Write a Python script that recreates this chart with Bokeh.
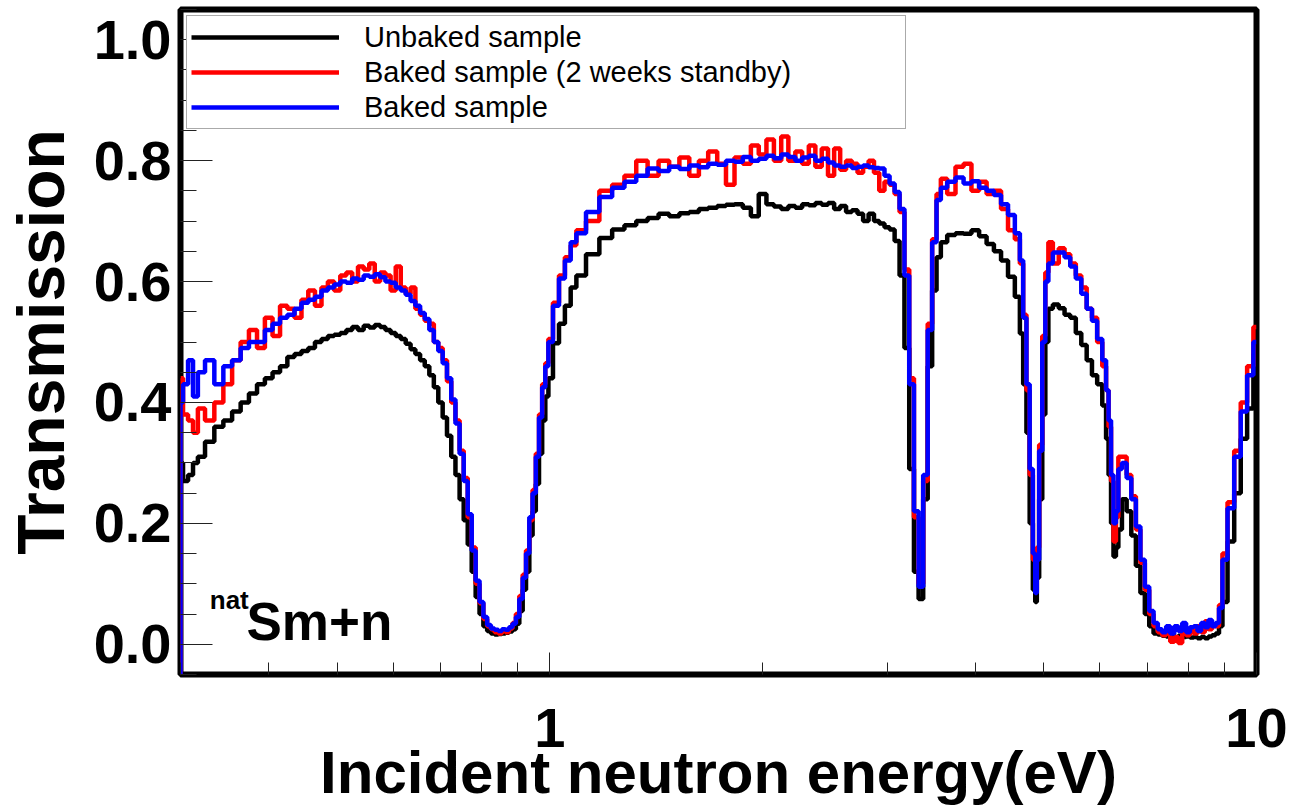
from bokeh.plotting import figure
from bokeh.models import (FixedTicker, SingleIntervalTicker, PrintfTickFormatter,
                          Label, Range1d)
from bokeh.embed import file_html
from bokeh.resources import INLINE

# ---------------- data ----------------
energy_eV = [
    0.300, 0.305, 0.31, 0.315, 0.32, 0.33, 0.34, 0.35, 0.36, 0.37, 0.38, 0.39, 0.40,
    0.41, 0.42, 0.43, 0.44, 0.45, 0.46, 0.47, 0.48, 0.49, 0.50, 0.51, 0.52, 0.53,
    0.54, 0.55, 0.56, 0.57, 0.58, 0.59, 0.60, 0.61, 0.62, 0.63, 0.64, 0.65, 0.66,
    0.67, 0.68, 0.69, 0.70,
    0.71, 0.72, 0.73, 0.74, 0.75, 0.76, 0.77, 0.78, 0.79, 0.80, 0.81, 0.82, 0.83,
    0.84, 0.85, 0.86, 0.87, 0.88, 0.89, 0.90, 0.91, 0.92, 0.93, 0.94, 0.95, 0.96,
    0.97, 0.98, 0.99, 1.00, 1.02, 1.04, 1.06, 1.08, 1.10,
    1.15, 1.2, 1.25, 1.3, 1.35, 1.4, 1.45, 1.5, 1.55, 1.6, 1.65, 1.7, 1.75, 1.8,
    1.85, 1.9, 1.95, 2.0, 2.05, 2.1, 2.15, 2.2, 2.25, 2.3, 2.35, 2.4, 2.45, 2.5,
    2.55, 2.6, 2.65, 2.7, 2.75, 2.8, 2.85, 2.9, 2.95, 3.0,
    3.05, 3.1, 3.15, 3.2, 3.25, 3.3, 3.35, 3.4, 3.45, 3.5, 3.55, 3.6, 3.7, 3.8,
    3.9, 4.0, 4.1, 4.2, 4.3, 4.4, 4.5, 4.6, 4.65, 4.7, 4.75, 4.8, 4.85, 4.875,
    4.9, 4.95, 5.0, 5.05, 5.1, 5.2, 5.3,
    5.4, 5.5, 5.6, 5.7, 5.8, 5.9, 6.0, 6.1, 6.15, 6.2, 6.25, 6.3, 6.35, 6.4, 6.5,
    6.6, 6.7, 6.8, 6.9, 7.0, 7.1, 7.2, 7.3, 7.4, 7.5, 7.6, 7.7, 7.8, 7.9, 8.0,
    8.1, 8.2, 8.3, 8.4, 8.5, 8.6, 8.7, 8.8, 8.9, 9.0, 9.2, 9.4, 9.6, 9.8, 10.0,
]

unbaked = [
    0.30, 0.27, 0.28, 0.30, 0.31, 0.335, 0.36, 0.37, 0.385, 0.40, 0.415, 0.43, 0.44,
    0.45, 0.46, 0.475, 0.48, 0.485, 0.49, 0.50, 0.505, 0.51, 0.512, 0.515, 0.52, 0.525,
    0.52, 0.527, 0.524, 0.528, 0.525, 0.52, 0.515, 0.51, 0.505, 0.497, 0.488, 0.48, 0.47,
    0.46, 0.445, 0.425, 0.40,
    0.375, 0.345, 0.31, 0.28, 0.24, 0.205, 0.165, 0.12, 0.078, 0.05, 0.03, 0.022, 0.018,
    0.016, 0.017, 0.018, 0.019, 0.021, 0.025, 0.034, 0.055, 0.09, 0.12, 0.18, 0.22, 0.265,
    0.315, 0.37, 0.41, 0.44, 0.498, 0.53, 0.56, 0.59, 0.61,
    0.645, 0.672, 0.686, 0.693, 0.70, 0.705, 0.712, 0.708, 0.713, 0.715, 0.72, 0.722, 0.725, 0.727,
    0.728, 0.722, 0.708, 0.745, 0.728, 0.724, 0.72, 0.725, 0.722, 0.728, 0.726, 0.73, 0.727, 0.73,
    0.72, 0.725, 0.715, 0.718, 0.712, 0.70, 0.712, 0.70, 0.696, 0.69,
    0.686, 0.667, 0.61, 0.49, 0.29, 0.12, 0.075, 0.24, 0.46, 0.585, 0.64, 0.665, 0.677, 0.68,
    0.679, 0.685, 0.675, 0.662, 0.65, 0.635, 0.608, 0.575, 0.514, 0.43, 0.35, 0.20, 0.09, 0.07,
    0.11, 0.24, 0.38, 0.50, 0.555, 0.562, 0.556,
    0.545, 0.54, 0.515, 0.495, 0.47, 0.445, 0.43, 0.395, 0.34, 0.28, 0.20, 0.145, 0.16, 0.19, 0.24,
    0.22, 0.18, 0.13, 0.085, 0.05, 0.03, 0.018, 0.016, 0.014, 0.013, 0.015, 0.012, 0.014, 0.012, 0.013,
    0.011, 0.012, 0.010, 0.012, 0.010, 0.013, 0.015, 0.018, 0.03, 0.07, 0.17, 0.25, 0.34, 0.39, 0.48,
]

baked_standby = [
    0.44, 0.38, 0.37, 0.35, 0.39, 0.37, 0.40, 0.43, 0.47, 0.50, 0.52, 0.49, 0.54,
    0.51, 0.56, 0.555, 0.54, 0.57, 0.585, 0.56, 0.59, 0.60, 0.585, 0.61, 0.615, 0.60,
    0.625, 0.62, 0.63, 0.60, 0.615, 0.61, 0.585, 0.625, 0.59, 0.58, 0.59, 0.555, 0.545,
    0.535, 0.53, 0.50, 0.49,
    0.47, 0.435, 0.40, 0.37, 0.32, 0.275, 0.21, 0.16, 0.10, 0.068, 0.042, 0.03, 0.025,
    0.02, 0.018, 0.022, 0.02, 0.026, 0.035, 0.05, 0.08, 0.115, 0.155, 0.205, 0.255, 0.315,
    0.38, 0.43, 0.465, 0.505, 0.565, 0.61, 0.64, 0.66, 0.685,
    0.70, 0.75, 0.76, 0.775, 0.80, 0.775, 0.80, 0.79, 0.805, 0.775, 0.80, 0.815, 0.795, 0.76,
    0.805, 0.795, 0.825, 0.81, 0.835, 0.80, 0.84, 0.80, 0.815, 0.795, 0.825, 0.79, 0.82, 0.775,
    0.82, 0.785, 0.80, 0.795, 0.78, 0.79, 0.80, 0.78, 0.75, 0.765,
    0.76, 0.745, 0.715, 0.62, 0.44, 0.21, 0.10, 0.27, 0.53, 0.67, 0.745, 0.77, 0.745, 0.79,
    0.795, 0.75, 0.765, 0.745, 0.75, 0.72, 0.685, 0.67, 0.63, 0.545, 0.42, 0.28, 0.14, 0.09,
    0.16, 0.33, 0.51, 0.615, 0.665, 0.63, 0.655,
    0.645, 0.63, 0.61, 0.59, 0.555, 0.54, 0.50, 0.46, 0.42, 0.36, 0.27, 0.17, 0.21, 0.31, 0.31,
    0.28, 0.245, 0.19, 0.135, 0.09, 0.05, 0.03, 0.02, 0.015, 0.02, 0.004, 0.012, 0.002, 0.02, 0.015,
    0.025, 0.018, 0.03, 0.02, 0.038, 0.025, 0.032, 0.03, 0.065, 0.15, 0.235, 0.32, 0.40, 0.46, 0.525,
]

baked = [
    0.40, 0.43, 0.47, 0.41, 0.45, 0.47, 0.43, 0.46, 0.47, 0.49, 0.50, 0.50, 0.52,
    0.53, 0.54, 0.545, 0.555, 0.565, 0.57, 0.575, 0.585, 0.59, 0.595, 0.60, 0.598, 0.605,
    0.603, 0.61, 0.608, 0.612, 0.607, 0.60, 0.598, 0.59, 0.585, 0.578, 0.568, 0.56, 0.548,
    0.538, 0.52, 0.50, 0.485,
    0.465, 0.44, 0.405, 0.365, 0.315, 0.27, 0.215, 0.155, 0.105, 0.07, 0.045, 0.032, 0.026,
    0.024, 0.022, 0.025, 0.024, 0.028, 0.034, 0.045, 0.075, 0.11, 0.15, 0.21, 0.25, 0.31,
    0.375, 0.425, 0.46, 0.50, 0.56, 0.605, 0.635, 0.665, 0.68,
    0.715, 0.74, 0.755, 0.765, 0.775, 0.787, 0.783, 0.79, 0.786, 0.792, 0.789, 0.795, 0.793, 0.80,
    0.798, 0.806, 0.80, 0.803, 0.808, 0.804, 0.81, 0.806, 0.80, 0.805, 0.808, 0.80, 0.803, 0.797,
    0.792, 0.79, 0.792, 0.788, 0.79, 0.792, 0.789, 0.788, 0.787, 0.775,
    0.762, 0.748, 0.72, 0.61, 0.43, 0.22, 0.095, 0.28, 0.52, 0.665, 0.735, 0.755, 0.765, 0.772,
    0.762, 0.766, 0.755, 0.75, 0.743, 0.728, 0.71, 0.68, 0.635, 0.54, 0.43, 0.29, 0.15, 0.085,
    0.14, 0.32, 0.50, 0.60, 0.63, 0.648, 0.648,
    0.64, 0.625, 0.605, 0.58, 0.555, 0.535, 0.505, 0.47, 0.42, 0.37, 0.28, 0.20, 0.22, 0.29, 0.30,
    0.275, 0.24, 0.195, 0.14, 0.095, 0.055, 0.035, 0.025, 0.02, 0.03, 0.018, 0.03, 0.022, 0.035, 0.02,
    0.028, 0.03, 0.022, 0.035, 0.028, 0.04, 0.03, 0.035, 0.06, 0.14, 0.225, 0.31, 0.385, 0.445, 0.50,
]

series_names = ["Unbaked sample", "Baked sample (2 weeks standby)", "Baked sample"]
series_values = [unbaked, baked_standby, baked]
series_colors = ["#000000", "#ff0000", "#0000ff"]

x_major_ticks = [1, 10]
x_minor_ticks = [0.3, 0.4, 0.5, 0.6, 0.7, 0.8, 0.9, 2, 3, 4, 5, 6, 7, 8, 9]
x_limits = (0.3, 10)
y_limits = (-0.05, 1.05)

FONT = "Liberation Sans"

# ---------------- figure ----------------
p = figure(width=1291, height=808, x_axis_type="log",
           x_range=Range1d(*x_limits), y_range=Range1d(*y_limits),
           output_backend="svg", toolbar_location=None,
           min_border_left=177, min_border_right=35,
           min_border_top=9, min_border_bottom=133)

p.background_fill_color = "white"
p.border_fill_color = "white"
p.outline_line_color = "black"
p.outline_line_width = 6
p.xgrid.grid_line_color = None
p.ygrid.grid_line_color = None

for name, vals, col in zip(series_names, series_values, series_colors):
    p.segment(x0=[energy_eV[0]], y0=[y_limits[0]], x1=[energy_eV[0]], y1=[vals[0]],
              line_color=col, line_width=4.5)
    p.step(energy_eV, vals, mode="center", line_color=col, line_width=4.5,
           legend_label=name)

# x axis
xa = p.xaxis[0]
xa.ticker = FixedTicker(ticks=x_major_ticks, minor_ticks=x_minor_ticks)
xa.formatter = PrintfTickFormatter(format="%d")
xa.axis_line_color = None
xa.major_tick_in = 22
xa.major_tick_out = 0
xa.minor_tick_in = 12
xa.minor_tick_out = 0
xa.major_tick_line_color = "#222222"
xa.minor_tick_line_color = "#222222"
xa.major_label_text_font = FONT
xa.major_label_text_font_style = "bold"
xa.major_label_text_font_size = "56px"
xa.major_label_text_color = "black"
xa.major_label_standoff = 34
xa.axis_label = "Incident neutron energy(eV)"
xa.axis_label_text_font = FONT
xa.axis_label_text_font_style = "bold"
xa.axis_label_text_font_size = "60px"
xa.axis_label_text_color = "black"
xa.axis_label_standoff = -11

# y axis
ya = p.yaxis[0]
ya.ticker = SingleIntervalTicker(interval=0.2, num_minor_ticks=4)
ya.formatter = PrintfTickFormatter(format="%.1f")
ya.axis_line_color = None
ya.major_tick_in = 32
ya.major_tick_out = 0
ya.minor_tick_in = 16
ya.minor_tick_out = 0
ya.major_tick_line_color = "#222222"
ya.minor_tick_line_color = "#222222"
ya.major_label_text_font = FONT
ya.major_label_text_font_style = "bold"
ya.major_label_text_font_size = "56px"
ya.major_label_text_color = "black"
ya.major_label_standoff = 9
ya.axis_label = "Transmission"
ya.axis_label_text_font = FONT
ya.axis_label_text_font_style = "bold"
ya.axis_label_text_font_size = "66px"
ya.axis_label_text_color = "black"
ya.axis_label_standoff = 13

# annotation natSm+n
p.add_layout(Label(x=0.330, y=0.073, text="nat", text_font=FONT, text_font_style="bold",
                   text_font_size="26px", text_color="black", text_baseline="alphabetic"))
p.add_layout(Label(x=0.372, y=0.037, text="Sm+n", text_font=FONT, text_font_style="bold",
                   text_font_size="53px", text_color="black", text_baseline="alphabetic"))

# legend
lg = p.legend[0]
lg.location = "top_left"
lg.margin = 6
lg.padding = 4
lg.spacing = 1
lg.glyph_width = 148
lg.glyph_height = 34
lg.label_height = 34
lg.label_width = 537
lg.label_standoff = 25
lg.label_text_font = FONT
lg.label_text_font_size = "29px"
lg.label_text_color = "black"
lg.border_line_color = "#555555"
lg.border_line_width = 1
lg.background_fill_color = "white"
lg.background_fill_alpha = 1.0

open("out.html", "w").write(file_html(p, INLINE))
